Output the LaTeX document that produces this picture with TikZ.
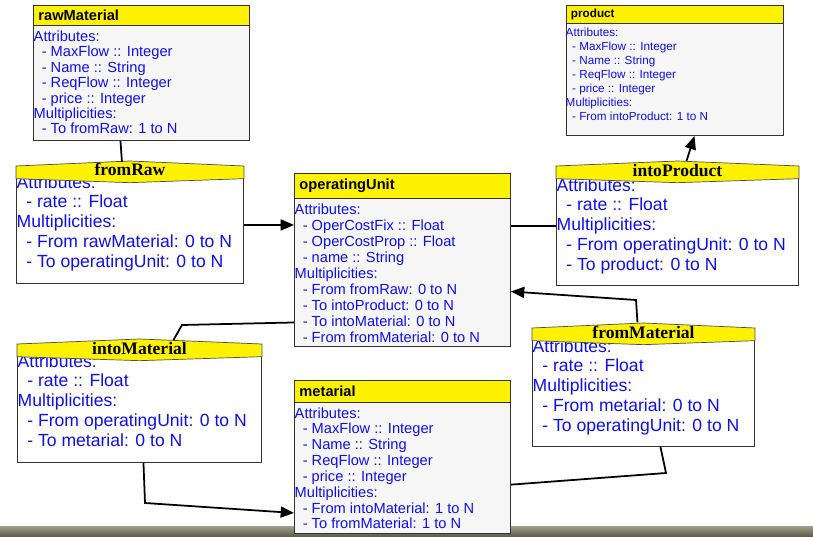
\documentclass[tikz,border=0pt]{standalone}
\usepackage{fontspec}
\setmainfont{Liberation Sans}
\newfontfamily\titlefont{Liberation Serif}
\usetikzlibrary{arrows.meta}
\definecolor{attrblue}{RGB}{15,15,235}
\definecolor{bodygray}{RGB}{246,246,246}
\definecolor{bartop}{RGB}{160,160,140}
\definecolor{barbot}{RGB}{88,88,70}
\newcommand{\itm}{\hspace*{0.55em}- }

\tikzset{
  clshead/.style={draw=black!80, fill=yellow, line width=0.8pt, anchor=north west,
    minimum height=0.6cm, inner xsep=0.15cm, text width=6.18cm, align=left,
    font=\fontsize{12.5}{14}\selectfont\bfseries},
  clsbody/.style={draw=black!80, fill=bodygray, line width=0.8pt, anchor=north west, minimum width=6.48cm},
  clstext/.style={anchor=north west, inner sep=0pt, align=left, text=attrblue,
    font=\fontsize{12.5}{13.5}\selectfont},
  asbody/.style={draw=black!80, fill=white, line width=0.8pt, anchor=north west},
  astext/.style={anchor=north west, inner sep=0pt, align=left, text=attrblue,
    font=\fontsize{15}{16.9}\selectfont},
  banner/.style={draw=black!70, fill=yellow, line width=0.6pt},
  astitle/.style={anchor=base, inner sep=0pt, font=\titlefont\fontsize{15}{16}\selectfont\bfseries},
  link/.style={line width=1.5pt},
  flow/.style={line width=1.5pt, -{Triangle[length=0.4cm, width=0.33cm]}}
}

\begin{document}
\begin{tikzpicture}[x=0.03cm, y=-0.03cm]
  \useasboundingbox[fill=white] (0,0) rectangle (813,537);
  % window bar at the bottom
  \shade[top color=bartop, bottom color=barbot] (0,526) rectangle (813,537);

  % classes
  \node[clshead] (rawH) at (33,5) {rawMaterial};
  \node[clsbody, minimum height=3.45cm] (raw) at (33,25) {};
  \node[clstext, font=\fontsize{12.5}{13.2}\selectfont] (rawA) at (33.5,30.3) {Attributes:\\ \itm MaxFlow :: Integer\\ \itm Name :: String\\
    \itm ReqFlow :: Integer\\ \itm price :: Integer\\ Multiplicities:\\ \itm To fromRaw: 1 to N};

  \node[clshead, minimum height=0.54cm, text width=6.21cm, font=\fontsize{10}{11}\selectfont\bfseries] (productH) at (565.5,5) {product};
  \node[clsbody, minimum width=6.51cm, minimum height=3.36cm] (product) at (565.5,23) {};
  \node[clstext, font=\fontsize{10}{11.95}\selectfont] (productA) at (565.5,27.5) {Attributes:\\ \itm MaxFlow :: Integer\\ \itm Name :: String\\
    \itm ReqFlow :: Integer\\ \itm price :: Integer\\ Multiplicities:\\ \itm From intoProduct: 1 to N};

  \node[clshead, minimum height=0.75cm] (opUnitH) at (294,173) {operatingUnit};
  \node[clsbody, minimum height=4.44cm] (opUnit) at (294,198) {};
  \node[clstext, font=\fontsize{12.5}{13.66}\selectfont] (opUnitA) at (294.5,203.3) {Attributes:\\ \itm OperCostFix :: Float\\ \itm OperCostProp :: Float\\
    \itm name :: String\\ Multiplicities:\\ \itm From fromRaw: 0 to N\\ \itm To intoProduct: 0 to N\\
    \itm To intoMaterial: 0 to N\\ \itm From fromMaterial: 0 to N};

  \node[clshead, minimum height=0.66cm] (metarialH) at (294,380) {metarial};
  \node[clsbody, minimum height=3.93cm] (metarial) at (294,402) {};
  \node[clstext] (metarialA) at (294.5,407.3) {Attributes:\\ \itm MaxFlow :: Integer\\ \itm Name :: String\\
    \itm ReqFlow :: Integer\\ \itm price :: Integer\\ Multiplicities:\\ \itm From intoMaterial: 1 to N\\ \itm To fromMaterial: 1 to N};

  % associations
  \node[asbody, minimum width=6.81cm, minimum height=3.51cm] (fromRaw) at (16,166) {};
  \node[astext] (fromRawA) at (16.5,175.2) {Attributes:\\ \itm rate :: Float\\ Multiplicities:\\
    \itm From rawMaterial: 0 to N\\ \itm To operatingUnit: 0 to N};
  \node[asbody, minimum width=7.26cm, minimum height=3.57cm] (intoProd) at (556,166) {};
  \node[astext] (intoProdA) at (556.5,178.2) {Attributes:\\ \itm rate :: Float\\ Multiplicities:\\
    \itm From operatingUnit: 0 to N\\ \itm To product: 0 to N};
  \node[asbody, minimum width=7.32cm, minimum height=3.54cm] (intoMat) at (17,344) {};
  \node[astext] (intoMatA) at (17.5,354.2) {Attributes:\\ \itm rate :: Float\\ Multiplicities:\\
    \itm From operatingUnit: 0 to N\\ \itm To metarial: 0 to N};
  \node[asbody, minimum width=6.66cm, minimum height=3.54cm] (fromMat) at (532,328) {};
  \node[astext] (fromMatA) at (532.5,339.2) {Attributes:\\ \itm rate :: Float\\ Multiplicities:\\
    \itm From metarial: 0 to N\\ \itm To operatingUnit: 0 to N};

  % banners
  \foreach \a in {fromRaw, intoProd, intoMat, fromMat}
    \draw[banner] (\a.north west) -- ([yshift=0.15cm]\a.north) -- (\a.north east)
      -- ([yshift=-0.38cm]\a.north east) -- ([yshift=-0.5cm]\a.north) -- ([yshift=-0.38cm]\a.north west) -- cycle;
  \node[astitle] (fromRawT) at ([yshift=-0.28cm]fromRaw.north) {fromRaw};
  \node[astitle] (intoProdT) at ([yshift=-0.3cm]intoProd.north) {intoProduct};
  \node[astitle] (intoMatT) at ([yshift=-0.3cm]intoMat.north) {intoMaterial};
  \node[astitle] (fromMatT) at ([yshift=-0.3cm]fromMat.north) {fromMaterial};

  % connectors
  \draw[link] ([xshift=-0.63cm]raw.south) -- ([xshift=-0.24cm,yshift=0.12cm]fromRaw.north);
  \draw[flow] (fromRaw.east) -- (fromRaw.east -| opUnit.west);
  \draw[link] (intoProd.west -| opUnit.east) -- (intoProd.west);
  \draw[flow] ([xshift=0.27cm,yshift=0.15cm]intoProd.north) -- ([xshift=0.6cm]product.south);
  \draw[link] ([xshift=1.02cm,yshift=0.12cm]intoMat.north) -- (182,325) -- ([yshift=-1.5cm]opUnit.west);
  \draw[flow] ([xshift=0.12cm]intoMat.south) -- (145,503) -- ([yshift=-1.35cm]metarial.west);
  \draw[link] ([yshift=-0.5cm]metarial.east) -- (666,473) -- ([xshift=0.51cm]fromMat.south);
  \draw[flow] ([xshift=-0.18cm,yshift=0.17cm]fromMat.north) -- (636,300) -- ([yshift=-0.57cm]opUnit.east);
\end{tikzpicture}
\end{document}
